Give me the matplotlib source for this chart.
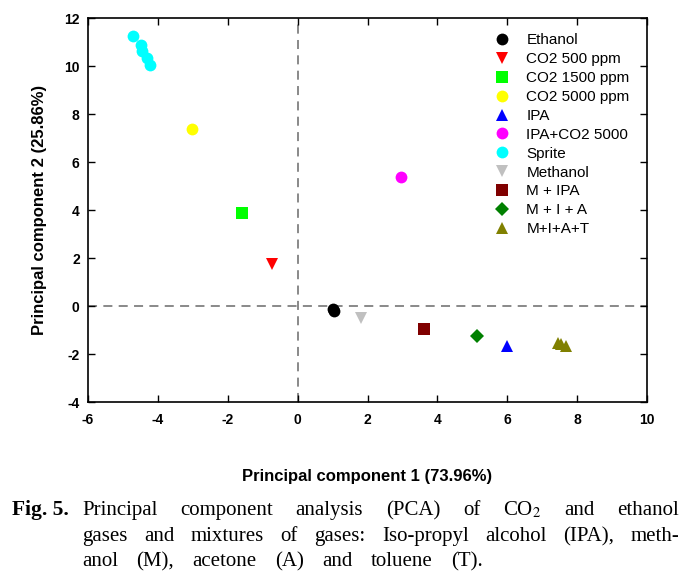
import matplotlib
matplotlib.use('Agg')
import matplotlib.pyplot as plt

plt.rcParams['font.family'] = ['Liberation Sans', 'DejaVu Sans']
plt.rcParams['mathtext.fontset'] = 'stix'
plt.rcParams['axes.unicode_minus'] = False

# groups of the PCA score plot
names = ['Ethanol', 'CO2 500 ppm', 'CO2 1500 ppm', 'CO2 5000 ppm', 'IPA',
         'IPA+CO2 5000', 'Sprite', 'Methanol', 'M + IPA', 'M + I + A', 'M+I+A+T']
pc1 = [[1.02, 1.05], [-0.73], [-1.59], [-3.02], [5.98],
       [2.96], [-4.70, -4.47, -4.45, -4.32, -4.23], [1.81], [3.61], [5.12],
       [7.45, 7.55, 7.68]]
pc2 = [[-0.12, -0.2], [1.75], [3.89], [7.38], [-1.65],
       [5.36], [11.26, 10.88, 10.64, 10.32, 10.04], [-0.51], [-0.97], [-1.24],
       [-1.55, -1.6, -1.65]]
colors = ['#000000', '#ff0000', '#00ff00', '#ffff00', '#0000ff',
          '#ff00ff', '#00ffff', '#c0c0c0', '#800000', '#008000', '#808000']
markers = ['o', 'v', 's', 'o', '^', 'o', 'o', 'v', 's', 'D', '^']

xticks = [-6, -4, -2, 0, 2, 4, 6, 8, 10]
yticks = [-4, -2, 0, 2, 4, 6, 8, 10, 12]

W, H = 698, 588
fig = plt.figure(figsize=(W/100, H/100), dpi=100)
ax = fig.add_axes([88/W, 1-402/H, (647-88)/W, (402-18)/H])

for n, xs, ys, c, m in zip(names, pc1, pc2, colors, markers):
    ms = 7 if m == 'D' else 8.5
    ax.plot(xs, ys, ls='none', marker=m, color=c, markersize=ms,
            markeredgewidth=0, label=n, zorder=3)

ax.axhline(0, color='#808080', lw=1.3, ls=(0, (5, 3.5)), zorder=1)
ax.axvline(0, color='#808080', lw=1.3, ls=(0, (5, 3.5)), zorder=1)

ax.set_xlim(-6, 10)
ax.set_ylim(-4, 12)
ax.set_xticks(xticks)
ax.set_yticks(yticks)
ax.tick_params(direction='in', top=True, right=True, length=5, width=1,
               labelsize=10, pad=6)
ax.tick_params(axis='x', pad=8)
for lab in ax.get_xticklabels() + ax.get_yticklabels():
    lab.set_fontweight('bold')
for s in ax.spines.values():
    s.set_linewidth(1.2)

ax.set_xlabel('Principal component 1 (73.96%)', fontsize=12, fontweight='bold', labelpad=30)
ax.set_ylabel('Principal component 2 (25.86%)', fontsize=12, fontweight='bold', labelpad=12)

leg = ax.legend(loc='upper left', bbox_to_anchor=(0.713, 0.98), frameon=False,
                fontsize=11, handlelength=1, handletextpad=1.1,
                labelspacing=0.32, borderpad=0)

# caption, justified lines
serif = 'Liberation Serif'
fig.canvas.draw()
r = fig.canvas.get_renderer()


def justify(words, x0, x1, y):
    ts = [fig.text(0, 1-y/H, w, family=serif, fontsize=15, va='baseline') for w in words]
    ws = [t.get_window_extent(r).width for t in ts]
    gap = (x1 - x0 - sum(ws)) / (len(ws) - 1)
    x = x0
    for t, w in zip(ts, ws):
        t.set_x(x/W)
        x += w + gap


fig.text(12/W, 1-515/H, 'Fig. 5.', family=serif, fontsize=15.5, fontweight='bold', va='baseline')
justify(['Principal', 'component', 'analysis', '(PCA)', 'of', r'CO$_2$', 'and', 'ethanol'], 82, 679, 515)
justify(['gases', 'and', 'mixtures', 'of', 'gases:', 'Iso-propyl', 'alcohol', '(IPA),', 'meth-'], 82, 679, 541)
justify(['anol', '(M),', 'acetone', '(A)', 'and', 'toluene', '(T).'], 82, 483, 566)

fig.savefig('out.png', dpi=100)
